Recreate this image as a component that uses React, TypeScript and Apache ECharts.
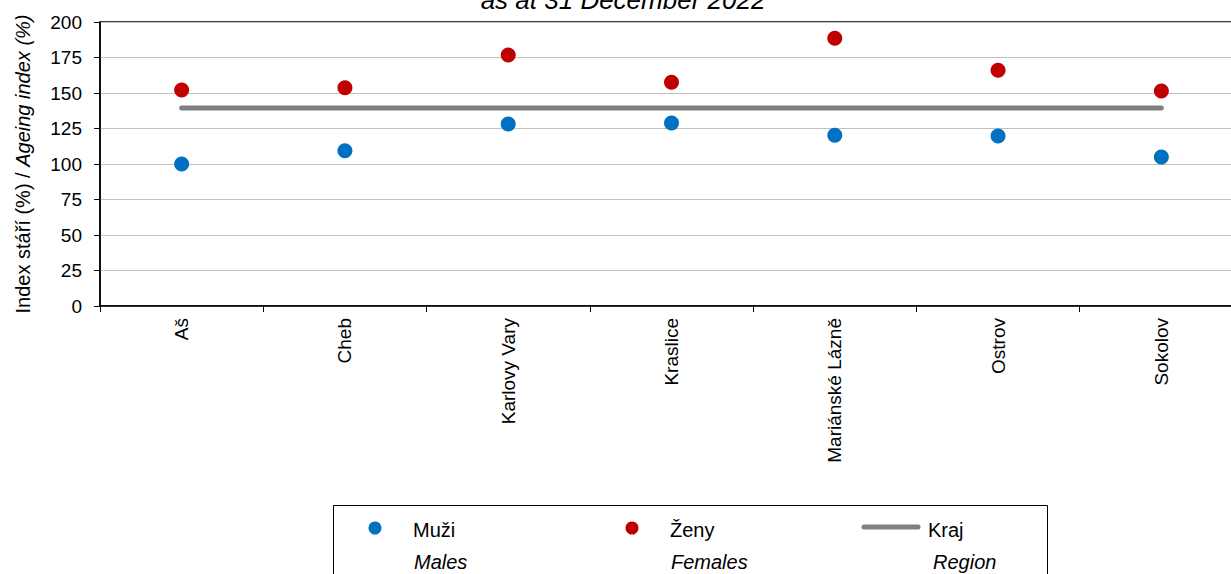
import React, { useEffect, useRef } from "react";
import * as echarts from "echarts";

const categories = ["Aš", "Cheb", "Karlovy Vary", "Kraslice", "Mariánské Lázně", "Ostrov", "Sokolov"];
const males = [100, 109.3, 128.2, 128.9, 120.3, 119.8, 104.9];
const females = [152.1, 153.7, 176.8, 157.6, 188.6, 166.1, 151.4];
const regionValue = 139.4;
const region = categories.map(() => regionValue);
const yTicks = [0, 25, 50, 75, 100, 125, 150, 175, 200];

const FONT = "Liberation Sans, Arial, sans-serif";

export default function App() {
  const ref = useRef<HTMLDivElement>(null);
  useEffect(() => {
    if (!ref.current) return;
    const chart = echarts.init(ref.current, null, { renderer: "svg" });
    chart.setOption({
      animation: false,
      textStyle: { fontFamily: FONT },
      grid: {
        left: 100,
        top: 22,
        width: 1143,
        height: 284,
        show: true,
        borderColor: "#000",
        borderWidth: 1.5,
        backgroundColor: "transparent",
        outerBoundsMode: "none",
        containLabel: false,
      },
      xAxis: {
        type: "category",
        data: categories,
        boundaryGap: true,
        axisLine: { lineStyle: { color: "#000", width: 1.5 } },
        axisTick: { show: true, length: 6, lineStyle: { color: "#000", width: 1 } },
        axisLabel: { rotate: 90, fontSize: 19, color: "#000", margin: 12, fontFamily: FONT },
        splitLine: { show: false },
      },
      yAxis: {
        type: "value",
        min: yTicks[0],
        max: yTicks[yTicks.length - 1],
        interval: 25,
        axisLine: { show: true, lineStyle: { color: "#000", width: 1.5 } },
        axisTick: { show: true, length: 6, lineStyle: { color: "#000" } },
        axisLabel: { fontSize: 19, color: "#000", margin: 18, fontFamily: FONT },
        splitLine: { show: true, lineStyle: { color: "#c0c0c0", width: 1 } },
        name: "{n|Index stáří (%) / }{i|Ageing index (%)}",
        nameLocation: "middle",
        nameGap: 67,
        nameRotate: 90,
        nameTextStyle: {
          rich: {
            n: { fontSize: 20, color: "#000", fontFamily: FONT },
            i: { fontSize: 20, color: "#000", fontStyle: "italic", fontFamily: FONT },
          },
        },
      },
      series: [
        {
          name: "Kraj",
          type: "line",
          data: region,
          symbol: "none",
          lineStyle: { color: "#808080", width: 5, cap: "round" },
          z: 1,
        },
        {
          name: "Muži",
          type: "scatter",
          data: males,
          symbol: "circle",
          symbolSize: 15,
          itemStyle: { color: "#0070c0", opacity: 1 },
          z: 3,
        },
        {
          name: "Ženy",
          type: "scatter",
          data: females,
          symbol: "circle",
          symbolSize: 15,
          itemStyle: { color: "#c00000", opacity: 1 },
          z: 3,
        },
      ],
      graphic: [
        {
          type: "text",
          x: 623,
          y: 13,
          style: {
            text: "as at 31 December 2022",
            fontSize: 26,
            fontStyle: "italic",
            fontFamily: FONT,
            fill: "#000",
            align: "center",
            verticalAlign: "bottom",
          },
        },
        {
          type: "rect",
          shape: { x: 333.5, y: 505.5, width: 714, height: 80 },
          style: { fill: "#fff", stroke: "#000", lineWidth: 1 },
        },
        { type: "circle", shape: { cx: 375, cy: 528, r: 6.5 }, style: { fill: "#0070c0" } },
        { type: "circle", shape: { cx: 632, cy: 528, r: 6.5 }, style: { fill: "#c00000" } },
        {
          type: "line",
          shape: { x1: 864, y1: 527, x2: 918, y2: 527 },
          style: { stroke: "#808080", lineWidth: 5, lineCap: "round" },
        },
        { type: "text", x: 413, y: 530, style: { text: "Muži", fontSize: 20, fontFamily: FONT, fill: "#000", verticalAlign: "middle" } },
        { type: "text", x: 670, y: 530, style: { text: "Ženy", fontSize: 20, fontFamily: FONT, fill: "#000", verticalAlign: "middle" } },
        { type: "text", x: 928, y: 530, style: { text: "Kraj", fontSize: 20, fontFamily: FONT, fill: "#000", verticalAlign: "middle" } },
        { type: "text", x: 414, y: 562, style: { text: "Males", fontSize: 20, fontStyle: "italic", fontFamily: FONT, fill: "#000", verticalAlign: "middle" } },
        { type: "text", x: 671, y: 562, style: { text: "Females", fontSize: 20, fontStyle: "italic", fontFamily: FONT, fill: "#000", verticalAlign: "middle" } },
        { type: "text", x: 933, y: 562, style: { text: "Region", fontSize: 20, fontStyle: "italic", fontFamily: FONT, fill: "#000", verticalAlign: "middle" } },
      ],
    });
    return () => chart.dispose();
  }, []);
  return (
    <div
      ref={ref}
      style={{ position: "fixed", left: 0, top: 0, width: 1231, height: 574, background: "#fff" }}
    />
  );
}
